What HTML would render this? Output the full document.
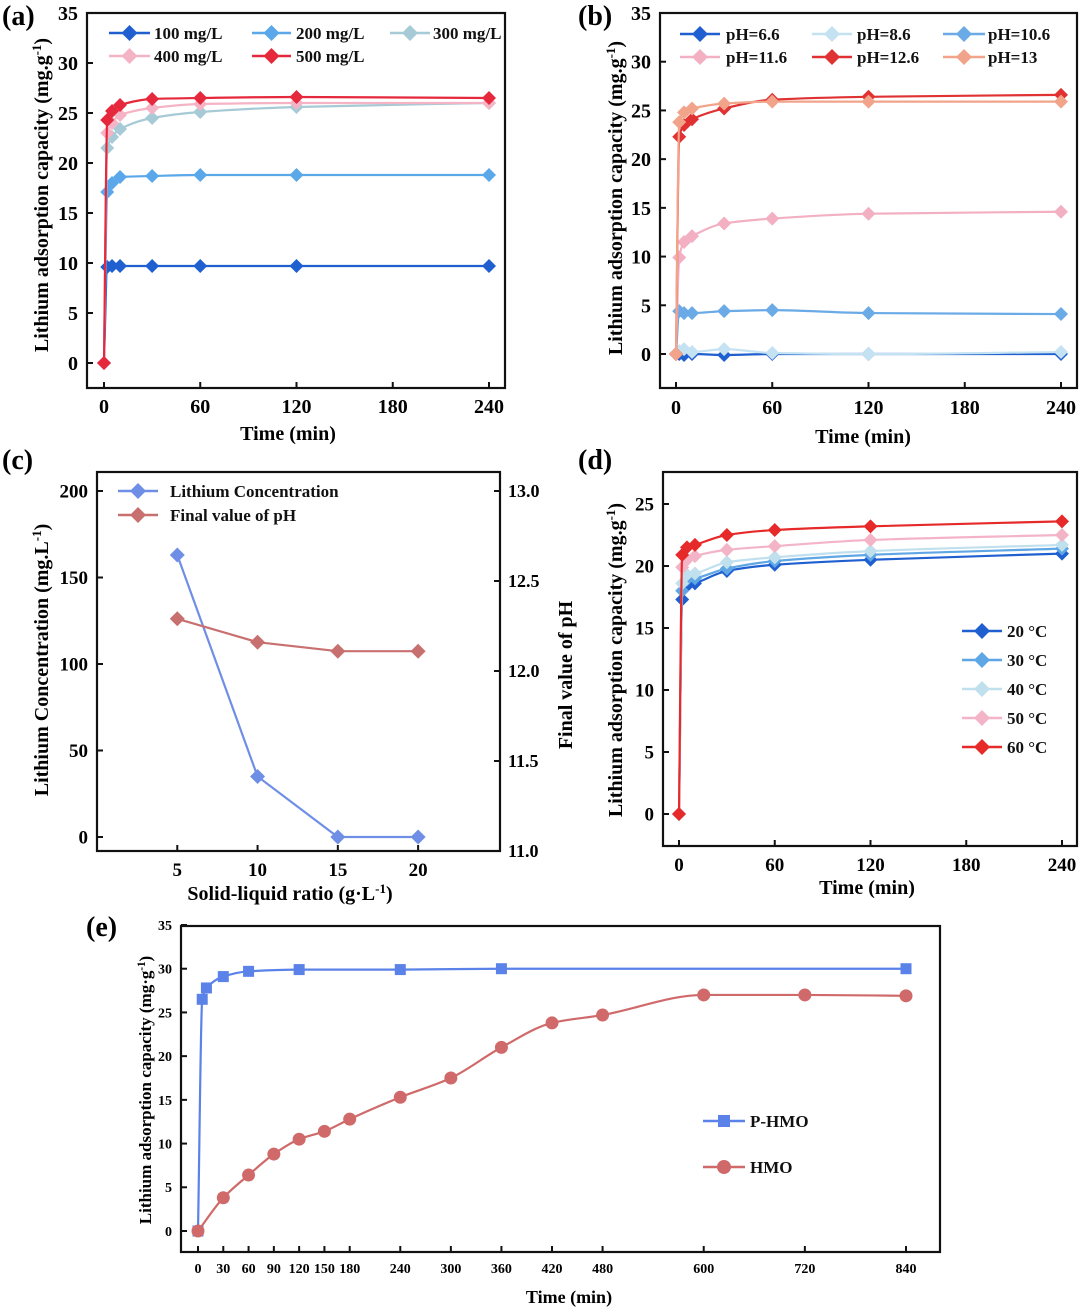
<!DOCTYPE html>
<html><head><meta charset="utf-8">
<style>
html,body{margin:0;padding:0;background:#fff;}
svg{display:block;font-family:"Liberation Serif",serif;font-weight:bold;}
</style></head>
<body>
<svg id="fig" width="1080" height="1308" viewBox="0 0 1080 1308" xmlns="http://www.w3.org/2000/svg"></svg>
<script>
// ---------- data ----------
const timesA = [0,2,5,10,30,60,120,240];
const a100 = [0,9.6,9.7,9.7,9.7,9.7,9.7,9.7];
const a200 = [0,17.1,18.0,18.6,18.7,18.8,18.8,18.8];
const a300 = [0,21.5,22.6,23.4,24.5,25.1,25.6,26.0];
const a400 = [0,23.0,24.0,24.8,25.5,25.9,26.0,26.0];
const a500 = [0,24.3,25.2,25.8,26.4,26.5,26.6,26.5];
const aLabels = ["100 mg/L","200 mg/L","300 mg/L","400 mg/L","500 mg/L"];

const timesB = [0,2,5,10,30,60,120,240];
const b66 = [0,0,-0.1,0,-0.1,0,0,0];
const b86 = [0,0.3,0.5,0.2,0.5,0.1,0,0.2];
const b106 = [0,4.4,4.2,4.2,4.4,4.5,4.2,4.1];
const b116 = [0,9.9,11.5,12.1,13.4,13.9,14.4,14.6];
const b126 = [0,22.3,23.5,24.1,25.2,26.1,26.4,26.6];
const b13 = [0,23.8,24.8,25.2,25.7,25.9,25.9,25.9];
const bLabels = ["pH=6.6","pH=8.6","pH=10.6","pH=11.6","pH=12.6","pH=13"];

const ratioC = [5,10,15,20];
const concC = [163,35,0,0];
const phC = [12.29,12.16,12.11,12.11];

const timesD = [0,2,5,10,30,60,120,240];
const d20 = [0,17.3,18.4,18.6,19.6,20.1,20.5,21.0];
const d30 = [0,18.0,18.9,19.0,19.8,20.4,20.9,21.4];
const d40 = [0,18.6,19.3,19.4,20.3,20.7,21.2,21.7];
const d50 = [0,19.9,20.5,20.8,21.3,21.6,22.1,22.5];
const d60 = [0,20.9,21.5,21.7,22.5,22.9,23.2,23.6];
const dLabels = ["20 °C","30 °C","40 °C","50 °C","60 °C"];

const timesEP = [0,5,10,30,60,120,240,360,840];
const ePHMO = [0,26.5,27.8,29.1,29.7,29.9,29.9,30.0,30.0];
const timesEH = [0,30,60,90,120,150,180,240,300,360,420,480,600,720,840];
const eHMO = [0,3.8,6.4,8.8,10.5,11.4,12.8,15.3,17.5,21.0,23.8,24.7,27.0,27.0,26.9];
const eTicks = [0,30,60,90,120,150,180,240,300,360,420,480,600,720,840];

// ---------- helpers ----------
const NS="http://www.w3.org/2000/svg";
const svg=document.getElementById('fig');
function mk(tag,attrs,parent,text){
  const e=document.createElementNS(NS,tag);
  for(const k in attrs) e.setAttribute(k,attrs[k]);
  if(text!==undefined) e.textContent=text;
  (parent||svg).appendChild(e);
  return e;
}
function lin(d0,d1,r0,r1){return v=>r0+(v-d0)*(r1-r0)/(d1-d0);}
function monoPath(px,py){
  const n=px.length; if(n<2) return '';
  const dx=[],m=[],t=[];
  for(let i=0;i<n-1;i++){dx[i]=px[i+1]-px[i];m[i]=(py[i+1]-py[i])/dx[i];}
  t[0]=m[0];t[n-1]=m[n-2];
  for(let i=1;i<n-1;i++){ t[i]=(m[i-1]*m[i]>0)?2/(1/m[i-1]+1/m[i]):0; }
  let d='M'+px[0]+','+py[0];
  for(let i=0;i<n-1;i++){
    const h=dx[i]/3;
    d+=' C'+(px[i]+h)+','+(py[i]+t[i]*h)+' '+(px[i+1]-h)+','+(py[i+1]-t[i+1]*h)+' '+px[i+1]+','+py[i+1];
  }
  return d;
}
function diamond(g,x,y,r,c){
  const p=mk('path',{d:`M${x},${y-r} L${x+r},${y} L${x},${y+r} L${x-r},${y} Z`,fill:c},g);
  
  
}
function drawSeries(g,name,xs,ys,X,Y,color,marker,smooth,r){
  const sg=mk('g',{},g);
  
  
  const px=xs.map(X),py=ys.map(Y);
  let d;
  if(smooth) d=monoPath(px,py); else d='M'+px.map((v,i)=>v+','+py[i]).join(' L');
  mk('path',{d:d,fill:'none',stroke:color,'stroke-width':2.2},sg);
  px.forEach((x,i)=>{
    if(marker==='diamond') diamond(sg,x,py[i],r||7,color);
    else if(marker==='square'){const s=mk('rect',{x:x-5.5,y:py[i]-5.5,width:11,height:11,fill:color},sg);}
    else {const c=mk('circle',{cx:x,cy:py[i],r:6.5,fill:color},sg);}
  });
}
function legendEntry(g,x1,x2,y,tx,label,color,marker,fs){
  const lg=mk('g',{},g);
  
  
  mk('line',{x1:x1,x2:x2,y1:y,y2:y,stroke:color,'stroke-width':2.5},lg);
  const cx=(x1+x2)/2;
  if(marker==='diamond') diamond(lg,cx,y,8,color);
  else if(marker==='square') mk('rect',{x:cx-6,y:y-6,width:12,height:12,fill:color},lg);
  else mk('circle',{cx:cx,cy:y,r:7,fill:color},lg);
  mk('text',{x:tx,y:y+6,'font-size':fs||17,fill:'#111'},lg,label);
}
function frame(g,l,t,r,b){
  const f=mk('rect',{x:l,y:t,width:r-l,height:b-t,fill:'none',stroke:'#111','stroke-width':2.2},g);
  
  
}
function yTicks(g,vals,Y,xl,fs){
  const tg=mk('g',{},g);
  
  
  vals.forEach(v=>{
    const y=Y(v);
    mk('line',{x1:xl,x2:xl+6,y1:y,y2:y,stroke:'#111','stroke-width':2},tg);
    mk('text',{x:xl-9,y:y+fs*0.35,'font-size':fs,'text-anchor':'end'},tg,v);
  });
}
function xTicks(g,vals,X,yb,fs,dy){
  const tg=mk('g',{},g);
  
  
  vals.forEach(v=>{
    const x=X(v);
    mk('line',{x1:x,x2:x,y1:yb,y2:yb-6,stroke:'#111','stroke-width':2},tg);
    mk('text',{x:x,y:yb+(dy||25),'font-size':fs,'text-anchor':'middle'},tg,v);
  });
}
function yTitle(g,x,y,fs,main,unitBase,sup){
  const t=mk('text',{transform:`translate(${x},${y}) rotate(-90)`,'text-anchor':'middle','font-size':fs},g);
  
  
  mk('tspan',{},t,main+unitBase);
  if(sup){
    mk('tspan',{'baseline-shift':'super','font-size':fs*0.65},t,sup);
    mk('tspan',{},t,')');
  }
}
function xTitle(g,x,y,fs,txt,sup,after){
  const t=mk('text',{x:x,y:y,'text-anchor':'middle','font-size':fs},g);
  
  
  mk('tspan',{},t,txt);
  if(sup){mk('tspan',{'baseline-shift':'super','font-size':fs*0.65},t,sup);mk('tspan',{},t,after);}
}
function panelLabel(x,y,txt){
  const t=mk('text',{x:x,y:y,'font-size':28},svg,txt);
  
  
}

// ---------- panel a ----------
(function(){
  const g=mk('g',{});
  
  
  const X=lin(0,240,104,489),Y=lin(0,35,363,13);
  frame(g,87,13,505,388);
  yTicks(g,[0,5,10,15,20,25,30,35],Y,87,20);
  xTicks(g,[0,60,120,180,240],X,388,20,25);
  const cols=['#1f5fd0','#5aa8ea','#a6cad6','#f4b4c6','#e6283c'];
  const ser=[a100,a200,a300,a400,a500];
  ser.forEach((s,i)=>drawSeries(g,'series-'+aLabels[i].split(' ')[0]+'mgL',timesA,s,X,Y,cols[i],'diamond',true,7));
  legendEntry(g,109,150,33,154,aLabels[0],cols[0],'diamond');
  legendEntry(g,252,291,33,296,aLabels[1],cols[1],'diamond');
  legendEntry(g,390,430,33,433,aLabels[2],cols[2],'diamond');
  legendEntry(g,109,150,56,154,aLabels[3],cols[3],'diamond');
  legendEntry(g,252,291,56,296,aLabels[4],cols[4],'diamond');
  yTitle(g,48,195,20,'Lithium adsorption capacity ','(mg.g','-1');
  xTitle(g,288,440,20,'Time (min)');
})();
panelLabel(2,25,'(a)');

// ---------- panel b ----------
(function(){
  const g=mk('g',{});
  
  
  const X=lin(0,240,676,1061),Y=lin(0,35,354,13);
  frame(g,660,13,1077,388);
  yTicks(g,[0,5,10,15,20,25,30,35],Y,660,20);
  xTicks(g,[0,60,120,180,240],X,388,20,26);
  const cols=['#1f5fd0','#c4e2f2','#6aaae6','#f2b0c2','#e03232','#f2a48a'];
  const ser=[b66,b86,b106,b116,b126,b13];
  ser.forEach((s,i)=>drawSeries(g,'series-'+bLabels[i],timesB,s,X,Y,cols[i],'diamond',true,7));
  legendEntry(g,680,720,34,726,bLabels[0],cols[0],'diamond');
  legendEntry(g,812,852,34,857,bLabels[1],cols[1],'diamond');
  legendEntry(g,943,985,34,988,bLabels[2],cols[2],'diamond');
  legendEntry(g,680,720,57,726,bLabels[3],cols[3],'diamond');
  legendEntry(g,812,852,57,857,bLabels[4],cols[4],'diamond');
  legendEntry(g,943,985,57,988,bLabels[5],cols[5],'diamond');
  yTitle(g,622,198,20,'Lithium adsorption capacity ','(mg.g','-1');
  xTitle(g,863,443,20,'Time (min)');
})();
panelLabel(578,25,'(b)');

// ---------- panel c ----------
(function(){
  const g=mk('g',{});
  
  
  const X=lin(0,25.1,97,500),Y=lin(0,200,837,491),YR=lin(11,13,851,491);
  frame(g,97,472,500,851);
  yTicks(g,[0,50,100,150,200],Y,97,19);
  const rv=[11.0,11.5,12.0,12.5,13.0];
  const tg=mk('g',{},g);
  
  
  rv.forEach(v=>{const y=YR(v);mk('line',{x1:500,x2:494,y1:y,y2:y,stroke:'#111','stroke-width':2},tg);mk('text',{x:508,y:y+6,'font-size':18},tg,v.toFixed(1));});
  xTicks(g,[5,10,15,20],X,851,19,25);
  drawSeries(g,'series-lithium-concentration',ratioC,concC,X,Y,'#6f8fe6','diamond',false,7.5);
  drawSeries(g,'series-final-ph',ratioC,phC,X,YR,'#c87070','diamond',false,7.5);
  legendEntry(g,118,158,491,170,'Lithium Concentration','#6f8fe6','diamond',17);
  legendEntry(g,118,158,515,170,'Final value of pH','#c87070','diamond',17);
  yTitle(g,48,660,20,'Lithium Concentration ','(mg.L','-1');
  const t=mk('text',{transform:'translate(572,675) rotate(-90)','text-anchor':'middle','font-size':20},g,'Final value of pH');
  
  
  xTitle(g,290,900,20,'Solid-liquid ratio (g·L','-1',')');
})();
panelLabel(2,469,'(c)');

// ---------- panel d ----------
(function(){
  const g=mk('g',{});
  
  
  const X=lin(0,240,679,1062),Y=lin(0,25,814,504);
  frame(g,663,472,1077,846);
  yTicks(g,[0,5,10,15,20,25],Y,663,19);
  xTicks(g,[0,60,120,180,240],X,846,19,25);
  const cols=['#1f5fd0','#5fa6e4','#c0e0ee','#f4b4c8','#e62a2a'];
  const ser=[d20,d30,d40,d50,d60];
  ser.forEach((s,i)=>drawSeries(g,'series-'+dLabels[i].split(' ')[0]+'C',timesD,s,X,Y,cols[i],'diamond',true,7));
  dLabels.forEach((lb,i)=>legendEntry(g,962,1002,631+i*29,1007,lb,cols[i],'diamond',17));
  yTitle(g,622,660,20,'Lithium adsorption capacity ','(mg.g','-1');
  xTitle(g,867,894,20,'Time (min)');
})();
panelLabel(578,469,'(d)');

// ---------- panel e ----------
(function(){
  const g=mk('g',{});
  
  
  const X=lin(0,840,198,906),Y=lin(0,35,1231,925);
  frame(g,181,926,940,1252);
  yTicks(g,[0,5,10,15,20,25,30,35],Y,181,14);
  xTicks(g,eTicks,X,1252,14,21);
  drawSeries(g,'series-p-hmo',timesEP,ePHMO,X,Y,'#5a82e8','square',true);
  drawSeries(g,'series-hmo',timesEH,eHMO,X,Y,'#d06a6a','circle',true);
  legendEntry(g,703,745,1121,750,'P-HMO','#5a82e8','square',17);
  legendEntry(g,703,745,1167,750,'HMO','#d06a6a','circle',17);
  yTitle(g,151,1090,17,'Lithium adsorption capacity ','(mg·g','-1');
  xTitle(g,569,1303,18,'Time (min)');
})();
panelLabel(86,936,'(e)');
</script>
</body></html>
